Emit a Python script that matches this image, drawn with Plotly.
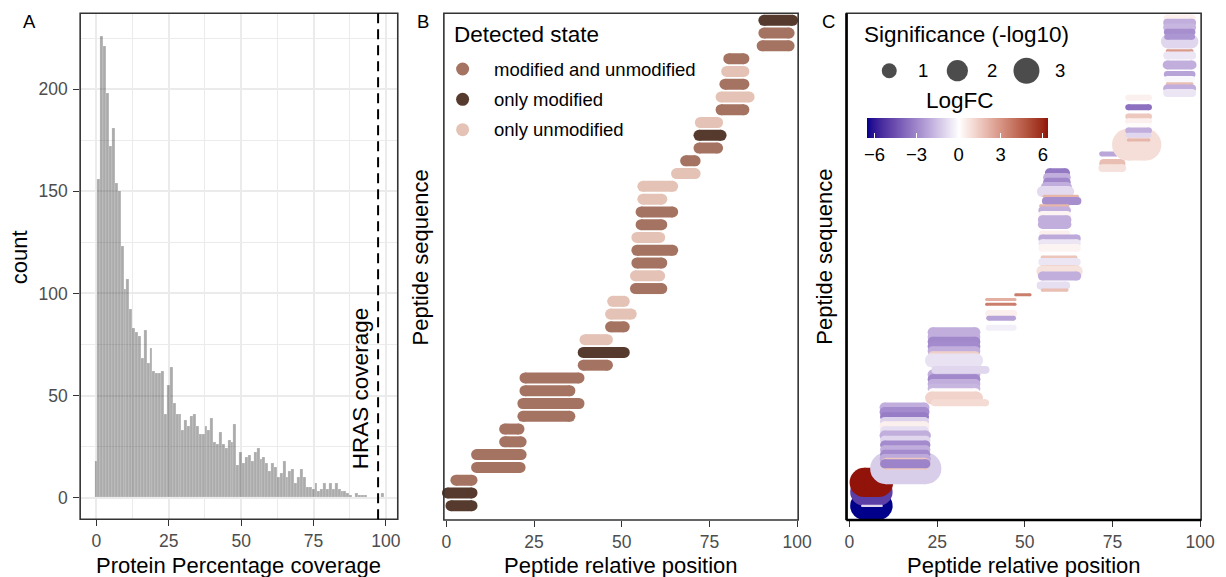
import numpy as np
import plotly.graph_objects as go

W, H = 1226, 577
FONT = "Liberation Sans, Arial, Helvetica, sans-serif"

# ---------------- Panel A : protein coverage histogram ----------------
coverage_pct = list(range(0, 100))
protein_counts = [18, 156, 226, 221, 198, 172, 181, 154, 150, 123,
                  102, 107, 92, 83, 81, 79, 68, 82, 66, 73,
                  62, 61, 61, 62, 41, 55, 64, 46, 41, 41,
                  33, 38, 35, 40, 41, 35, 31, 31, 35, 33,
                  39, 27, 26, 32, 26, 24, 28, 27, 36, 16,
                  22, 17, 20, 21, 18, 22, 24, 19, 20, 17,
                  13, 17, 15, 10, 12, 18, 10, 13, 14, 7,
                  10, 14, 10, 5, 5, 4, 7, 3, 4, 7,
                  4, 7, 4, 7, 4, 3, 3, 2, 1, 0,
                  2, 1, 1, 1, 0, 0, 0, 0, 0, 2]
hras_coverage = 97.3

# ---------------- Panel B : detected state per peptide ----------------
pepB_row = list(range(1, 40))
pepB_start = [1.3, 0.3, 2.7, 8.6, 8.6, 16.6, 16.6, 21.8, 21.8, 22.4,
              22.4, 39.0, 39.0, 39.5, 46.8, 46.8, 47.4, 53.9, 53.9, 54.3,
              54.3, 54.3, 55.5, 55.5, 56.0, 56.0, 65.6, 68.2, 72.0, 72.0,
              72.4, 78.3, 78.3, 79.4, 79.9, 80.5, 90.0, 90.5, 90.5]
pepB_end = [7.3, 7.3, 7.3, 21.0, 21.3, 21.3, 20.7, 35.2, 37.8, 35.2,
            37.8, 45.9, 50.7, 45.9, 50.7, 52.7, 50.7, 61.4, 60.8, 61.4,
            64.5, 60.8, 61.4, 64.5, 61.4, 64.5, 70.9, 70.9, 77.3, 78.3,
            77.3, 84.8, 86.3, 84.8, 84.8, 84.8, 97.7, 97.7, 98.7]
MU, OM, OU = "modified and unmodified", "only modified", "only unmodified"
pepB_state = [OM, OM, MU, MU, MU, MU, MU, MU, MU, MU,
              MU, MU, OM, OU, MU, OU, OU, MU, OU, MU,
              MU, OU, MU, MU, OU, OU, OU, MU, MU, OM,
              OU, MU, OU, MU, OU, MU, MU, MU, OM]
state_names = [MU, OM, OU]
state_colors = {MU: "#A57362", OM: "#563A2D", OU: "#E4C3B6"}

# ---------------- Panel C : LogFC / significance per peptide ----------------
c_row = [3, 6, 3, 8,
         11, 24, 23, 22, 21, 20, 19, 18, 17, 16, 15, 14, 13, 12, 12,
         40, 39, 38, 37, 36, 35, 34, 31, 32, 30, 29, 28, 27, 26, 25,
         47, 46, 44, 43, 41,
         48,
         74, 73, 72, 71, 70, 69, 68, 67, 66, 65, 64, 63, 61, 60, 59, 58, 56, 55, 54, 53, 52, 50, 49,
         78, 76, 75,
         80, 90, 88, 86, 85, 84, 83, 82, 81,
         107, 106, 105, 104, 102, 103, 100, 99, 97, 95, 94, 93, 92, 91]
c_start = [4.2, 4.2, 3.6, 4.2,
           10.4, 10.0, 10.0, 10.0, 10.0, 10.0, 10.0, 10.0, 10.0, 10.0, 10.0, 10.0, 10.0, 10.5, 10.0,
           23.7, 23.7, 23.7, 23.7, 23.7, 23.7, 23.5, 23.7, 24.5, 23.7, 23.7, 23.7, 23.7, 23.4, 24.3,
           39.1, 39.1, 39.7, 39.7, 39.7,
           47.4,
           57.0, 56.5, 56.5, 56.0, 55.0, 55.5, 56.0, 54.5, 55.0, 55.0, 55.0, 55.0, 55.0, 55.0, 55.0, 55.0, 55.0, 55.0, 55.0, 55.0, 55.0, 54.5, 55.0,
           71.9, 72.5, 72.1,
           79.4, 79.5, 79.5, 79.5, 79.5, 79.5, 79.5, 79.5, 79.5,
           90.6, 90.6, 90.6, 90.6, 90.8, 90.6, 90.6, 90.6, 90.6, 90.6, 90.6, 90.6, 90.6, 90.6]
c_end = [8.3, 8.3, 9.2, 8.3,
         21.7, 21.4, 21.4, 21.4, 21.4, 21.4, 21.4, 21.8, 21.8, 21.8, 21.8, 21.8, 21.8, 21.4, 21.8,
         35.9, 35.9, 35.9, 35.9, 35.9, 35.9, 36.1, 35.9, 38.8, 35.9, 35.9, 35.9, 35.9, 36.2, 38.8,
         47.2, 47.2, 46.8, 46.8, 46.8,
         51.5,
         61.6, 61.8, 61.8, 62.0, 62.5, 65.0, 65.0, 62.3, 62.0, 62.0, 62.0, 62.0, 62.0, 64.8, 64.8, 64.8, 64.5, 64.8, 64.8, 64.8, 64.8, 61.8, 62.0,
         76.1, 77.4, 77.8,
         84.4, 85.4, 85.4, 85.4, 85.4, 85.4, 85.4, 85.4, 85.4,
         97.7, 97.7, 97.7, 97.7, 97.5, 97.7, 97.7, 97.7, 97.7, 97.7, 97.7, 97.7, 97.7, 97.7]
c_logfc = [-6.57, -5.0, -1.0, 6.34,
           -1.2, -2.0, -2.9, -3.3, -1.1, 0.4, -0.8, -2.0, -1.0, -2.9, -2.0, -2.9, -2.1, 1.5, -3.1,
           -2.0, -2.0, -3.0, -2.9, -2.0, 1.3, -0.7, -2.0, -1.0, -3.0, -2.0, -1.8, 0.1, 1.2, 1.0,
           2.2, 3.6, 0.4, -2.3, -0.4,
           3.6,
           -3.4, -2.0, -3.0, -2.0, -0.9, 2.0, -2.8, 2.0, -2.0, 0.3, -2.0, -2.0, 0.4, -2.1, -0.6, 0.3, 1.6, -0.6, 2.3, 0.8, -2.0, -0.8, 1.8,
           -2.2, 1.8, 0.8,
           0.9, 0.4, -3.6, 1.5, 0.4, 0.1, -2.0, -1.0, 2.0,
           0.4, -2.0, -1.8, -2.8, -1.0, -2.6, 2.8, -0.6, -2.0, -2.3, -0.2, 1.8, -2.0, -0.6]
c_sig = [3.5, 3.5, 0.02, 3.8,
         4.44, 0.44, 0.44, 0.36, 0.36, 0.44, 0.36, 0.44, 0.36, 0.36, 0.36, 0.36, 0.44, 0.64, 0.36,
         0.44, 0.44, 0.44, 0.44, 0.44, 0.36, 0.87, 0.44, 0.28, 0.44, 0.44, 0.44, 0.44, 0.75, 0.22,
         0.04, 0.04, 0.22, 0.11, 0.16,
         0.04,
         0.36, 0.36, 0.36, 0.44, 0.54, 0.04, 0.28, 0.04, 0.28, 0.28, 0.36, 0.36, 0.2, 0.28, 0.28, 0.28, 0.05, 0.28, 0.05, 0.64, 0.36, 0.28, 0.05,
         0.11, 0.36, 0.28,
         4.47, 0.16, 0.16, 0.16, 0.16, 0.16, 0.16, 0.11, 0.04,
         0.22, 0.28, 0.28, 0.2, 0.87, 0.16, 0.04, 0.28, 0.36, 0.2, 0.16, 0.04, 0.28, 0.28]
sig_legend = [1, 2, 3]
fc_ticks = [-6, -3, 0, 3, 6]


def sig_to_px(s):
    return 15.0 * np.sqrt(s)


# ---------- Lab-space diverging gradient (darkblue - white - darkred) ----------
M = np.array([[0.4124564, 0.3575761, 0.1804375],
              [0.2126729, 0.7151522, 0.0721750],
              [0.0193339, 0.1191920, 0.9503041]])
MI = np.linalg.inv(M)
WREF = np.array([0.95047, 1.0, 1.08883])
D = 6.0 / 29.0


def _lin(c):
    c = c / 255.0
    return c / 12.92 if c <= 0.04045 else ((c + 0.055) / 1.055) ** 2.4


def _gam(c):
    c = 12.92 * c if c <= 0.0031308 else 1.055 * max(c, 0) ** (1 / 2.4) - 0.055
    return min(255.0, max(0.0, c * 255.0))


def rgb2lab(rgb):
    xyz = (M @ np.array([_lin(v) for v in rgb])) / WREF
    f = np.where(xyz > D ** 3, np.cbrt(xyz), xyz / (3 * D * D) + 4 / 29)
    return np.array([116 * f[1] - 16, 500 * (f[0] - f[1]), 200 * (f[1] - f[2])])


def lab2rgb(lab):
    fy = (lab[0] + 16) / 116
    f = np.array([fy + lab[1] / 500, fy, fy - lab[2] / 200])
    xyz = np.where(f > D, f ** 3, 3 * D * D * (f - 4 / 29)) * WREF
    return [_gam(v) for v in (MI @ xyz)]


LAB_LO, LAB_MID, LAB_HI = rgb2lab((0, 0, 139)), rgb2lab((255, 255, 255)), rgb2lab((139, 0, 0))
fc_min, fc_max = min(c_logfc), max(c_logfc)
fc_half = max(abs(fc_min), abs(fc_max))


def gradient2(v):
    s = v / fc_half / 2 + 0.5
    if s <= 0.5:
        lab = LAB_LO + (LAB_MID - LAB_LO) * (s / 0.5)
    else:
        lab = LAB_MID + (LAB_HI - LAB_MID) * ((s - 0.5) / 0.5)
    return lab2rgb(lab)


t_white = (0 - fc_min) / (fc_max - fc_min)
t_stops = sorted(set([round(t, 6) for t in np.linspace(0, 1, 41)] + [round(t_white, 6)]))
stop_rgb = [[int(round(c)) for c in gradient2(fc_min + t * (fc_max - fc_min))] for t in t_stops]
colorscale = [[t, "rgb(%d,%d,%d)" % tuple(c)] for t, c in zip(t_stops, stop_rgb)]


def fc_color(v):
    t = (v - fc_min) / (fc_max - fc_min)
    t = min(1.0, max(0.0, t))
    for i in range(len(t_stops) - 1):
        if t_stops[i] <= t <= t_stops[i + 1]:
            a = (t - t_stops[i]) / (t_stops[i + 1] - t_stops[i])
            c = [stop_rgb[i][k] + (stop_rgb[i + 1][k] - stop_rgb[i][k]) * a for k in range(3)]
            return "rgb(%d,%d,%d)" % tuple(int(round(x)) for x in c)
    return colorscale[-1][1]


# ---------------- figure ----------------
fig = go.Figure()

fig.add_trace(go.Bar(
    x=coverage_pct, y=protein_counts, width=1, offset=-0.6,
    marker=dict(color="rgba(0,0,0,0.33)", line=dict(color="rgba(255,255,255,0.35)", width=0.5)),
    xaxis="x", yaxis="y", showlegend=False, hoverinfo="skip"))

for r, s, e, st in zip(pepB_row, pepB_start, pepB_end, pepB_state):
    col = state_colors[st]
    fig.add_trace(go.Scatter(
        x=[s, e], y=[r, r], mode="lines+markers",
        line=dict(color=col, width=11),
        marker=dict(size=11, color=col, line=dict(width=0)),
        xaxis="x2", yaxis="y2", cliponaxis=False, showlegend=False, hoverinfo="skip"))

for r, s, e, v, sg in zip(c_row, c_start, c_end, c_logfc, c_sig):
    w = sig_to_px(sg)
    fig.add_trace(go.Scatter(
        x=[s, e], y=[r, r], mode="lines+markers",
        line=dict(color=fc_color(v), width=w),
        marker=dict(size=w, color=[v, v], coloraxis="coloraxis", line=dict(width=0)),
        xaxis="x3", yaxis="y3", cliponaxis=False, showlegend=False, hoverinfo="skip"))

# legend keys (drawn on a full-figure pixel overlay axis)
fig.add_trace(go.Scatter(
    x=[466.7] * 3, y=[69, 99.3, 129.7], mode="markers",
    marker=dict(size=13, color=[state_colors[s] for s in state_names], line=dict(width=0)),
    xaxis="x4", yaxis="y4", showlegend=False, hoverinfo="skip"))
fig.add_trace(go.Scatter(
    x=[899, 968, 1038], y=[70.7] * 3, mode="markers",
    marker=dict(size=[sig_to_px(s) for s in sig_legend], color="black", line=dict(width=0)),
    xaxis="x4", yaxis="y4", showlegend=False, hoverinfo="skip"))

tickfont = dict(family=FONT, size=17.5, color="#4d4d4d")
xcommon = dict(ticks="outside", ticklen=6, tickwidth=1.3, tickcolor="#333333", tickfont=tickfont,
               zeroline=False, showline=False, tickmode="array", tickvals=[0, 25, 50, 75, 100])


def dom_x(a, b):
    return [a / W, b / W]


def dom_y(top, bottom):
    return [1 - bottom / H, 1 - top / H]


fig.update_layout(
    width=W, height=H, autosize=False, margin=dict(l=0, r=0, t=0, b=0),
    paper_bgcolor="white", plot_bgcolor="rgba(0,0,0,0)",
    font=dict(family=FONT, color="black"),
    bargap=0,
    xaxis=dict(domain=dom_x(79.2, 401), anchor="y", range=[-5.63, 104.1],
               showgrid=True, gridcolor="#ebebeb", gridwidth=1.5,
               minor=dict(tickmode="array", tickvals=[12.5, 37.5, 62.5, 87.5], showgrid=True,
                          gridcolor="#ebebeb", gridwidth=0.9),
               **xcommon),
    yaxis=dict(domain=dom_y(13.3, 519.3), anchor="x", range=[-10.57, 237.1],
               tickmode="array", tickvals=[0, 50, 100, 150, 200],
               ticks="outside", ticklen=6, tickwidth=1.3, tickcolor="#333333", tickfont=tickfont,
               ticklabelstandoff=2,
               showgrid=True, gridcolor="#ebebeb", gridwidth=1.5, zeroline=False, showline=False,
               minor=dict(tickmode="array", tickvals=[25, 75, 125, 175, 225], showgrid=True,
                          gridcolor="#ebebeb", gridwidth=0.9)),
    xaxis2=dict(domain=dom_x(447.7, 806.7), anchor="y2", range=[-0.73, 100.28], showgrid=False, **xcommon),
    yaxis2=dict(domain=dom_y(13.3, 520), anchor="x2", range=[-0.12, 39.55], showgrid=False,
                showticklabels=False, ticks="", zeroline=False, showline=False),
    xaxis3=dict(domain=dom_x(855.7, 1215), anchor="y3", range=[-0.84, 100.28], showgrid=False, **xcommon),
    yaxis3=dict(domain=dom_y(13.3, 520), anchor="x3", range=[0, 108], showgrid=False,
                showticklabels=False, ticks="", zeroline=False, showline=False),
    xaxis4=dict(domain=[0, 1], anchor="y4", range=[0, W], visible=False, fixedrange=True),
    yaxis4=dict(domain=[0, 1], anchor="x4", range=[H, 0], visible=False, fixedrange=True),
    coloraxis=dict(
        colorscale=colorscale, cmin=fc_min, cmax=fc_max,
        colorbar=dict(orientation="h", x=876 / W, xanchor="left", y=1 - 118 / H, yanchor="top",
                      len=181, lenmode="pixels", thickness=20, thicknessmode="pixels",
                      xpad=0, ypad=0, outlinewidth=0, ticks="inside", ticklen=5, tickwidth=1.2,
                      tickcolor="white", tickmode="array", tickvals=fc_ticks,
                      ticktext=[str(t).replace("-", "\u2212") for t in fc_ticks],
                      tickfont=dict(family=FONT, size=18.5, color="black"),
                      title=dict(text=""))),
)

shapes = []
for xr, yr in [("x", "y"), ("x2", "y2"), ("x3", "y3")]:
    shapes.append(dict(type="rect", xref=xr + " domain", yref=yr + " domain", x0=0, x1=1, y0=0, y1=1,
                       line=dict(color="#333333", width=1.6), layer="above"))
shapes.append(dict(type="line", xref="x3 domain", yref="y3 domain", x0=0, x1=0, y0=0, y1=1,
                   line=dict(color="black", width=2.6), layer="above"))
shapes.append(dict(type="line", xref="x3 domain", yref="y3 domain", x0=0, x1=1, y0=0, y1=0,
                   line=dict(color="black", width=2.6), layer="above"))
shapes.append(dict(type="line", xref="x", yref="y domain", x0=hras_coverage, x1=hras_coverage, y0=0, y1=1,
                   line=dict(color="black", width=2, dash="10px,6px"), layer="above"))
fig.update_layout(shapes=shapes)


def ann(text, x, y, size, xanchor="center", angle=0, color="black", xref="x4", yref="y4"):
    return dict(text=text, x=x, y=y, xref=xref, yref=yref, showarrow=False, textangle=angle,
                xanchor=xanchor, yanchor="middle", font=dict(family=FONT, size=size, color=color))


annotations = [
    ann("A", 28, 21.7, 18.5), ann("B", 427, 21.7, 18.5), ann("C", 837.5, 21.7, 18.5),
    ann("count", 17.5, 257, 22, angle=-90),
    ann("Peptide sequence", 424, 257, 22, angle=-90),
    ann("Peptide sequence", 832.5, 257, 22, angle=-90),
    ann("Protein Percentage coverage", 240.1, 565, 22),
    ann("Peptide relative position", 627.2, 565, 22),
    ann("Peptide relative position", 1035.4, 565, 22),
    ann("HRAS coverage", 91.1, 53.2, 22.5, angle=-90, xref="x", yref="y"),
    ann("Detected state", 455.7, 34.3, 22.5, xanchor="left"),
    ann("Significance (-log10)", 871, 34.3, 22.5, xanchor="left"),
    ann("LogFC", 970.5, 100, 22.5),
]
for name, yy in zip(state_names, [69, 99.3, 129.7]):
    annotations.append(ann(name, 496, yy, 18.5, xanchor="left"))
for s, xx in zip(sig_legend, [933, 1003, 1072]):
    annotations.append(ann(str(s), xx, 70.7, 18.5))
fig.update_layout(annotations=annotations)

fig.write_html(
    "out.html",
    config={"displayModeBar": False, "responsive": False},
    post_script="document.body.style.margin='0px';document.body.style.overflow='hidden';"
                "document.documentElement.style.overflow='hidden';",
)
